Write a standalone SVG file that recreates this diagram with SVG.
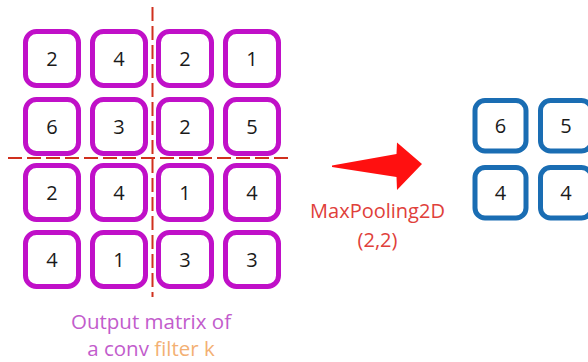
<svg xmlns="http://www.w3.org/2000/svg" width="588" height="362" viewBox="0 0 588 362">
  <style>
    .cell { fill: #ffffff; stroke: #c010c8; stroke-width: 5; }
    .pool { fill: #ffffff; stroke: #1a6db3; stroke-width: 5; }
    .num { font-family: "Open Sans", "Liberation Sans", sans-serif; font-size: 20px; fill: #1a1a1a; text-anchor: middle; }
    .split { stroke: #d0301e; stroke-width: 2; stroke-dasharray: 14 5; fill: none; }
    .op { font-family: "Open Sans", "Liberation Sans", sans-serif; font-size: 20px; fill: #e0403a; text-anchor: middle; }
    .cap { font-family: "Open Sans", "Liberation Sans", sans-serif; font-size: 20.5px; fill: #c25ccc; text-anchor: middle; }
  </style>

  <!-- 4x4 output matrix of the conv filter -->
  <g id="matrix">
    <g id="c00"><rect class="cell" x="25.5" y="31.5" width="53" height="54" rx="11"/><text class="num" x="52" y="65.5">2</text></g>
    <g id="c01"><rect class="cell" x="92.5" y="31.5" width="53" height="54" rx="11"/><text class="num" x="119" y="65.5">4</text></g>
    <g id="c02"><rect class="cell" x="158.5" y="31.5" width="53" height="54" rx="11"/><text class="num" x="185" y="65.5">2</text></g>
    <g id="c03"><rect class="cell" x="225.5" y="31.5" width="53" height="54" rx="11"/><text class="num" x="252" y="65.5">1</text></g>

    <g id="c10"><rect class="cell" x="25.5" y="99.5" width="53" height="54" rx="11"/><text class="num" x="52" y="133.5">6</text></g>
    <g id="c11"><rect class="cell" x="92.5" y="99.5" width="53" height="54" rx="11"/><text class="num" x="119" y="133.5">3</text></g>
    <g id="c12"><rect class="cell" x="158.5" y="99.5" width="53" height="54" rx="11"/><text class="num" x="185" y="133.5">2</text></g>
    <g id="c13"><rect class="cell" x="225.5" y="99.5" width="53" height="54" rx="11"/><text class="num" x="252" y="133.5">5</text></g>

    <g id="c20"><rect class="cell" x="25.5" y="165.5" width="53" height="54" rx="11"/><text class="num" x="52" y="199.5">2</text></g>
    <g id="c21"><rect class="cell" x="92.5" y="165.5" width="53" height="54" rx="11"/><text class="num" x="119" y="199.5">4</text></g>
    <g id="c22"><rect class="cell" x="158.5" y="165.5" width="53" height="54" rx="11"/><text class="num" x="185" y="199.5">1</text></g>
    <g id="c23"><rect class="cell" x="225.5" y="165.5" width="53" height="54" rx="11"/><text class="num" x="252" y="199.5">4</text></g>

    <g id="c30"><rect class="cell" x="25.5" y="232.5" width="53" height="54" rx="11"/><text class="num" x="52" y="266.5">4</text></g>
    <g id="c31"><rect class="cell" x="92.5" y="232.5" width="53" height="54" rx="11"/><text class="num" x="119" y="266.5">1</text></g>
    <g id="c32"><rect class="cell" x="158.5" y="232.5" width="53" height="54" rx="11"/><text class="num" x="185" y="266.5">3</text></g>
    <g id="c33"><rect class="cell" x="225.5" y="232.5" width="53" height="54" rx="11"/><text class="num" x="252" y="266.5">3</text></g>
  </g>

  <!-- 2x2 pooling windows -->
  <g id="windows">
    <line class="split" x1="152.5" y1="7" x2="152.5" y2="297"/>
    <line class="split" x1="8" y1="158" x2="291" y2="158"/>
  </g>

  <!-- caption under the matrix -->
  <g id="caption">
    <text class="cap" x="151" y="329">Output matrix of</text>
    <text class="cap" x="151" y="356">a conv <tspan fill="#f3b073">filter k</tspan></text>
  </g>

  <!-- pooling step arrow -->
  <g id="connectors">
    <path id="arrow" d="M332,165.5 L396.5,154 L397,142.5 L422,164 L397,190 L396.5,177 L332,167 Z" fill="#ff1010"/>
    <text class="op" x="377.5" y="218">MaxPooling2D</text>
    <text class="op" x="377.5" y="247">(2,2)</text>
  </g>

  <!-- pooled 2x2 result -->
  <g id="pooled">
    <g id="p00"><rect class="pool" x="475" y="100.5" width="51" height="50.5" rx="10"/><text class="num" x="500.5" y="132.5">6</text></g>
    <g id="p01"><rect class="pool" x="540.5" y="100.5" width="51" height="50.5" rx="10"/><text class="num" x="566" y="132.5">5</text></g>
    <g id="p10"><rect class="pool" x="475" y="167.5" width="51" height="50.5" rx="10"/><text class="num" x="500.5" y="199.5">4</text></g>
    <g id="p11"><rect class="pool" x="540.5" y="167.5" width="51" height="50.5" rx="10"/><text class="num" x="566" y="199.5">4</text></g>
  </g>
</svg>
